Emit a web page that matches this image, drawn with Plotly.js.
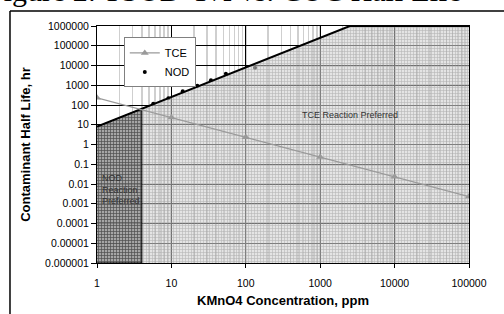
<!DOCTYPE html>
<html>
<head>
<meta charset="utf-8">
<script src="https://cdn.plot.ly/plotly-3.0.1.min.js"></script>
<style>
html,body{margin:0;padding:0;background:#fff;}
#chart{width:504px;height:314px;}
</style>
</head>
<body>
<div id="chart"></div>
<script>
// ---- data ----
var tceConc = [1, 10, 100, 1000, 10000, 100000];
var tceHalfLife = [230, 23, 2.3, 0.23, 0.023, 0.0023];

var nodConc = [5.7, 9.1, 14.2, 22.3, 34, 54, 133];
var nodHalfLife = [115, 220, 500, 940, 1800, 3800, 7600];

// boundary between NOD- and TCE-preferred regions
var boundaryConc = [1, 2500, 100000];
var boundaryHalfLife = [8, 1000000, 1000000];

// NOD-preferred region limit
var nodRegionConc = [1, 4, 4, 1];
var nodRegionHalfLife = [8, 64, 0.000001, 0.000001];

var yTickVals = [0.000001, 0.00001, 0.0001, 0.001, 0.01, 0.1, 1, 10, 100, 1000, 10000, 100000, 1000000];
var yTickText = ["0.000001", "0.00001", "0.0001", "0.001", "0.01", "0.1", "1", "10", "100", "1000", "10000", "100000", "1000000"];
var xTickVals = [1, 10, 100, 1000, 10000, 100000];
var xTickText = ["1", "10", "100", "1000", "10000", "100000"];

var yMin = 0.000001, xMax = 100000;

// ---- traces ----
var nod = {
  x: nodConc, y: nodHalfLife, name: 'NOD', legendrank: 2,
  mode: 'markers',
  marker: {symbol: 'circle', size: 4, color: '#000'}
};
var tceRegion = {
  x: boundaryConc.concat([xMax, 1]),
  y: boundaryHalfLife.concat([yMin, yMin]),
  mode: 'lines', fill: 'toself', showlegend: false, hoverinfo: 'skip',
  line: {width: 0, color: 'rgba(0,0,0,0)'},
  fillcolor: 'rgba(190,190,190,0.55)',
  fillpattern: {shape: '+', size: 3, solidity: 0.35, fgcolor: 'rgba(150,150,150,0.6)', bgcolor: 'rgba(205,205,205,0.55)'}
};
var nodRegion = {
  x: nodRegionConc, y: nodRegionHalfLife,
  mode: 'lines', fill: 'toself', showlegend: false, hoverinfo: 'skip',
  line: {width: 1, color: '#000'},
  fillcolor: 'rgba(110,110,110,0.7)',
  fillpattern: {shape: '+', size: 3, solidity: 0.4, fgcolor: 'rgba(60,60,60,0.8)', bgcolor: 'rgba(140,140,140,0.7)'}
};
var boundary = {
  x: boundaryConc, y: boundaryHalfLife,
  mode: 'lines', showlegend: false, hoverinfo: 'skip',
  line: {width: 2, color: '#000'}
};
var tce = {
  x: tceConc, y: tceHalfLife, name: 'TCE', legendrank: 1,
  mode: 'lines+markers',
  line: {width: 1.2, color: '#9a9a9a'},
  marker: {symbol: 'triangle-up', size: 7, color: '#9a9a9a'}
};

var axisFont = {family: 'Liberation Sans, Arial, sans-serif', size: 10.5, color: '#000'};
var titleFont = {family: 'Liberation Sans, Arial, sans-serif', size: 13, color: '#000', weight: 'bold'};

var layout = {
  width: 504, height: 314,
  margin: {l: 97, r: 35, t: 26, b: 51, pad: 0},
  paper_bgcolor: '#fff', plot_bgcolor: '#fff',
  showlegend: true,
  legend: {
    x: 0.072, y: 0.952, xanchor: 'left', yanchor: 'top',
    bgcolor: '#fff', bordercolor: '#808080', borderwidth: 1,
    font: {family: 'Liberation Sans, Arial, sans-serif', size: 11, color: '#000'},
    itemwidth: 30, tracegroupgap: 0
  },
  xaxis: {
    type: 'log', range: [0, 5],
    tickvals: xTickVals, ticktext: xTickText,
    ticks: 'outside', ticklen: 4, tickcolor: '#000',
    tickfont: axisFont, ticklabelstandoff: 6,
    showline: true, linecolor: '#000', linewidth: 1, mirror: true,
    showgrid: true, gridcolor: '#000', gridwidth: 1,
    minor: {dtick: 'D1', showgrid: true, gridcolor: '#cfcfcf', gridwidth: 1.5, ticks: ''},
    zeroline: false,
    title: {text: 'KMnO4 Concentration, ppm', font: titleFont, standoff: 8}
  },
  yaxis: {
    type: 'log', range: [-6, 6],
    tickvals: yTickVals, ticktext: yTickText,
    ticks: 'outside', ticklen: 5, tickcolor: '#000',
    tickfont: axisFont,
    showline: true, linecolor: '#000', linewidth: 1, mirror: true,
    showgrid: true, gridcolor: '#000', gridwidth: 1,
    zeroline: false,
    title: {text: 'Contaminant Half Life, hr', font: titleFont, standoff: 11}
  },
  annotations: [
    {xref: 'paper', yref: 'paper', x: -0.30, y: 1.072, xanchor: 'left', yanchor: 'bottom',
     text: 'Figure 2: TSOD-T½ vs. COC Half Life', showarrow: false,
     font: {family: 'Liberation Serif, Times New Roman, serif', size: 30, color: '#000'}},
    {xref: 'paper', yref: 'paper', x: 0.68, y: 0.625, xanchor: 'center', yanchor: 'middle',
     text: 'TCE Reaction Preferred', showarrow: false,
     font: {family: 'Liberation Sans, Arial, sans-serif', size: 9, color: '#333'}},
    {xref: 'paper', yref: 'paper', x: 0.008, y: 0.39, xanchor: 'left', yanchor: 'top', align: 'left',
     text: 'NOD<br>Reaction<br>Preferred', showarrow: false,
     font: {family: 'Liberation Sans, Arial, sans-serif', size: 9, color: '#333'}}
  ],
  shapes: [
    {type: 'line', xref: 'paper', yref: 'paper', x0: -0.2339, x1: -0.2339, y0: -0.3, y1: 1.0633,
     line: {color: '#000', width: 1.5}},
    {type: 'line', xref: 'paper', yref: 'paper', x0: -0.2339, x1: 1.2, y0: 1.0633, y1: 1.0633,
     line: {color: '#000', width: 1.5}}
  ]
};

Plotly.newPlot('chart', [nod, tceRegion, nodRegion, boundary, tce], layout, {staticPlot: true, displayModeBar: false});
</script>
</body>
</html>
